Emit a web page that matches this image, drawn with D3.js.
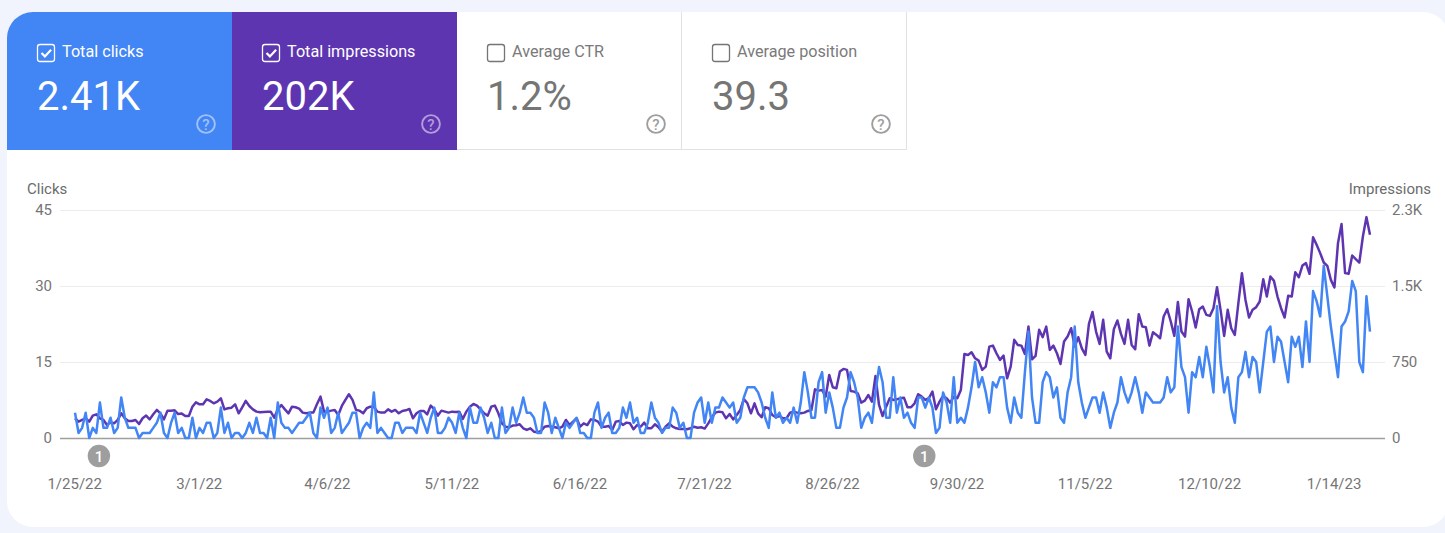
<!DOCTYPE html>
<html><head><meta charset="utf-8">
<script src="https://cdn.jsdelivr.net/npm/d3@7"></script>
<style>html,body{margin:0;padding:0;background:#f1f4fc;overflow:hidden}svg{display:block}text{font-family:Roboto,sans-serif}</style>
</head><body><svg id="c" width="1445" height="533"></svg>
<script>
const tabLabels=["Total clicks","Total impressions","Average CTR","Average position"];
const tabValues=["2.41K","202K","1.2%","39.3"];
const tabChecked=[true,true,false,false];
const tabFills=["#4285f4","#5e35b1",null,null];
const xTickLabels=["1/25/22","3/1/22","4/6/22","5/11/22","6/16/22","7/21/22","8/26/22","9/30/22","11/5/22","12/10/22","1/14/23"];
const leftTicks=[0,15,30,45];
const rightTickLabels=["0","750","1.5K","2.3K"];
const annotationDates=["2/1/22","9/21/22"];
const clicks=[
5,1,2,5,0,2,1,7,2,2,
4,1,2,8,4,2,2,2,0,1,
1,1,2,3,5,1,0,3,5,1,
2,0,0,4,0,2,1,3,3,0,
1,6,1,3,0,1,1,0,1,3,
1,4,1,1,0,4,0,7,3,2,
2,1,2,3,3,4,5,1,0,6,
4,6,1,2,5,1,2,3,5,5,
0,2,3,2,9,1,2,1,0,0,
3,3,1,2,2,2,1,5,3,1,
4,6,1,1,2,4,3,1,5,2,
0,6,3,3,6,4,1,3,0,0,
6,1,2,6,3,5,8,5,5,4,
1,1,7,5,1,4,2,0,3,2,
3,4,1,1,0,0,5,7,2,4,
5,1,1,2,6,4,7,3,4,1,
1,3,7,4,3,1,2,2,6,5,
2,3,0,0,5,7,8,3,7,3,
6,6,8,7,6,7,3,4,8,10,
10,10,9,7,4,2,9,4,5,3,
4,3,6,3,7,13,9,4,4,11,
13,5,9,6,2,2,6,8,13,11,
8,2,4,5,3,9,14,11,4,4,
12,5,8,4,5,3,2,8,8,6,
8,6,1,2,9,7,3,12,3,4,
3,6,10,15,10,12,9,5,11,10,
12,12,6,3,8,5,4,13,21,8,
3,3,11,13,12,8,10,4,3,9,
12,22,11,7,4,6,8,8,5,9,
6,2,5,7,12,9,7,9,12,9,
5,9,8,7,7,7,8,12,9,10,
22,14,12,5,13,12,16,12,18,14,
9,26,15,9,12,6,3,12,13,17,
12,16,15,9,15,21,22,15,20,19,
15,11,20,18,20,14,23,15,29,27,
24,34,28,22,17,12,22,23,25,31,
29,15,13,28,21];
const impressions=[
199,165,182,199,165,226,239,199,182,131,
158,148,182,249,199,172,172,182,141,199,
226,188,239,283,249,188,276,276,279,242,
246,222,222,316,360,340,340,390,374,350,
367,400,289,300,306,340,249,310,374,323,
289,266,259,263,266,266,205,289,333,289,
249,316,310,296,256,249,256,256,340,417,
266,266,276,283,232,323,384,441,384,283,
276,249,300,316,316,266,256,256,289,266,
283,249,273,279,293,199,249,273,273,239,
327,289,226,276,266,256,266,263,266,192,
266,316,343,327,289,249,226,316,327,249,
148,114,108,125,128,138,98,81,98,64,
57,71,114,121,114,108,98,114,182,131,
165,199,114,148,131,188,182,165,114,114,
121,81,165,172,131,155,148,88,131,114,
155,98,98,138,108,64,114,148,114,98,
91,91,88,98,114,104,108,95,148,209,
256,266,259,199,242,188,232,283,394,350,
249,350,249,209,310,300,232,209,222,199,
199,256,266,256,249,256,273,283,491,478,
485,417,636,512,501,670,697,687,475,468,
451,357,377,434,367,626,333,222,316,401,
384,390,401,407,310,310,350,441,417,384,
401,468,289,367,424,401,357,417,401,485,
848,838,865,804,781,687,720,922,932,855,
788,831,602,720,990,939,932,848,1124,794,
828,1091,1017,1124,889,932,855,747,973,1023,
1107,922,1017,905,838,1151,1272,1074,949,1192,
872,804,1097,1185,1050,949,1192,939,895,1249,
1124,1118,932,1067,1040,1006,1225,1299,1175,1030,
1373,1074,1023,1400,1276,1114,1299,1326,1242,1232,
1309,1521,1293,1030,1293,1107,1040,1360,1663,1393,
1215,1293,1320,1377,1602,1427,1629,1585,1427,1309,
1215,1434,1427,1673,1622,1740,1764,1656,2026,1949,
1865,1770,1737,1595,1518,1966,2158,1663,1656,1841,
1804,1770,2033,2228,2050];

const parse=d3.timeParse("%m/%d/%y");
const startDate=parse("01/25/22");
const days=clicks.map((_,i)=>d3.timeDay.offset(startDate,i));
const svg=d3.select("#c");
// card
svg.append("rect").attr("x",7).attr("y",12).attr("width",1442).attr("height",515).attr("rx",26).attr("fill","#fff");
// tabs
const tabW=225,tabX=i=>7+i*tabW,tabY=12,tabH=138;
const tabs=svg.selectAll("g.tab").data(tabLabels).join("g").attr("class","tab").attr("transform",(d,i)=>`translate(${tabX(i)},${tabY})`);
tabs.append("path").attr("d",(d,i)=>i==0?`M0,${tabH}V26A26,26 0 0 1 26,0H${tabW}V${tabH}Z`:`M0,0H${tabW}V${tabH}H0Z`)
 .attr("fill",(d,i)=>tabFills[i]||"#fff");
tabs.filter((d,i)=>!tabFills[i]).append("path").attr("d",`M${tabW-.5},0V${tabH-.5}H0`).attr("fill","none").attr("stroke","#dfe1e4").attr("stroke-width",1);
tabs.append("rect").attr("x",30.5).attr("y",32.5).attr("width",17).attr("height",17).attr("rx",2.5)
 .attr("fill","none").attr("stroke",(d,i)=>tabFills[i]?"#fff":"#757575").attr("stroke-width",1.3);
tabs.filter((d,i)=>tabChecked[i]).append("path").attr("d","M34.5,41l3.4,3.4l6.2,-6.6").attr("fill","none").attr("stroke","#fff").attr("stroke-width",2.2);
tabs.append("text").attr("x",55).attr("y",45).attr("font-size",16.2).attr("fill",(d,i)=>tabFills[i]?"#fff":"#7a7a7a").text(d=>d);
tabs.append("text").attr("x",30).attr("y",98).attr("font-size",40).attr("font-weight",400).attr("fill",(d,i)=>tabFills[i]?"#fff":"#757575").text((d,i)=>tabValues[i]);
const helpColor=i=>i==0?"#a0c2fa":i==1?"#b39ddb":"#9e9e9e";
tabs.append("circle").attr("cx",199).attr("cy",112).attr("r",8.9).attr("fill","none").attr("stroke-width",1.9).attr("stroke",(d,i)=>helpColor(i));
tabs.append("text").attr("x",199).attr("y",117.5).attr("text-anchor","middle").attr("font-size",15).attr("font-weight",500).attr("fill",(d,i)=>helpColor(i)).text("?");

// scales
const x=d3.scaleTime().domain([startDate,days[days.length-1]]).range([75,1370]);
const yL=d3.scaleLinear().domain([0,45]).range([438,210]);
const yR=d3.scaleLinear().domain([0,2300]).range([438,210]);
const tc="#757575";
// grid
svg.append("g").selectAll("line").data(leftTicks).join("line").attr("x1",60).attr("x2",1385)
 .attr("y1",d=>yL(d)+.5).attr("y2",d=>yL(d)+.5).attr("stroke",d=>d==0?"#9e9e9e":"#ececec").attr("stroke-width",d=>d==0?1.4:1);
// axes
const axL=d3.axisLeft(yL).tickValues(leftTicks).tickSize(0).tickPadding(0);
const gL=svg.append("g").attr("transform","translate(52,0)").call(axL);
const rightVals=rightTickLabels.map((_,i)=>i*2300/3);
const axR=d3.axisRight(yR).tickValues(rightVals).tickFormat((d,i)=>rightTickLabels[i]).tickSize(0).tickPadding(0);
const gR=svg.append("g").attr("transform","translate(1392,0)").call(axR);
const tickDates=xTickLabels.map(s=>{const [m,d,y]=s.split("/");return parse(`${m.padStart(2,"0")}/${d.padStart(2,"0")}/${y}`)});
const axB=d3.axisBottom(x).tickValues(tickDates).tickFormat((d,i)=>xTickLabels[i]).tickSize(0).tickPadding(0);
const gB=svg.append("g").attr("transform","translate(-0.8,478)").call(axB);
[gL,gR,gB].forEach(g=>{g.select(".domain").remove();g.selectAll("text").attr("font-family","Roboto,sans-serif").attr("font-size",15).attr("fill",tc)});
svg.append("text").attr("x",27).attr("y",194).attr("font-size",15).attr("fill","#6b6b6b").text("Clicks");
svg.append("text").attr("x",1431).attr("y",194).attr("text-anchor","end").attr("font-size",15).attr("fill","#6b6b6b").text("Impressions");
// lines
const line=(y)=>d3.line().x((d,i)=>x(days[i])).y(d=>y(d));
svg.append("path").attr("d",line(yR)(impressions)).attr("fill","none").attr("stroke","#5e35b1").attr("stroke-width",2.5).attr("stroke-linejoin","round");
svg.append("path").attr("d",line(yL)(clicks)).attr("fill","none").attr("stroke","#4285f4").attr("stroke-width",2.5).attr("stroke-linejoin","round");
// annotations
const ann=svg.selectAll("g.ann").data(annotationDates).join("g").attr("class","ann").attr("transform",d=>{const [m,dd,y]=d.split("/");return `translate(${x(parse(`${m.padStart(2,"0")}/${dd.padStart(2,"0")}/${y}`))-1},456)`});
ann.append("circle").attr("r",11.2).attr("fill","#9e9e9e");
ann.append("text").attr("text-anchor","middle").attr("y",5.5).attr("font-size",15).attr("font-weight",500).attr("fill","#fff").text("1");
</script></body></html>
